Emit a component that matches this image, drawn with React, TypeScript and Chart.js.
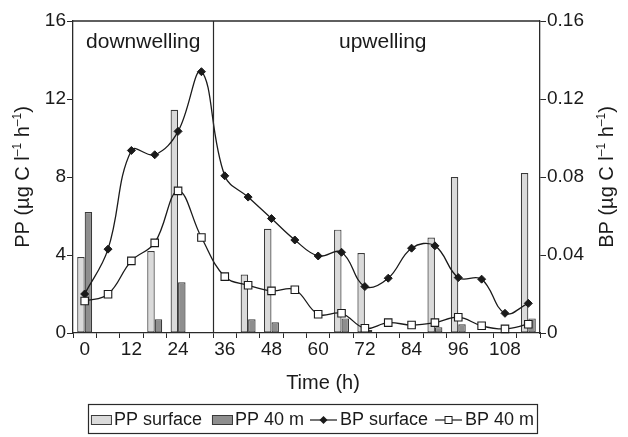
import React, { useEffect, useRef } from 'react';
import { Chart, registerables } from 'chart.js';

Chart.register(...registerables);

// ---- data ----
const hours = [0, 6, 12, 18, 24, 30, 36, 42, 48, 54, 60, 66, 72, 78, 84, 90, 96, 102, 108, 114];
const categories = hours.map(String);
const ppSurface = [3.9, null, null, 4.2, 11.45, null, null, 3.0, 5.35, null, null, 5.3, 4.1, null, null, 4.9, 8.0, null, null, 8.2];
const pp40m = [6.2, null, null, 0.7, 2.6, null, null, 0.7, 0.55, null, null, 0.75, 0.15, null, null, 0.3, 0.45, null, null, 0.75];
const bpSurface = [0.02, 0.043, 0.0936, 0.0914, 0.1034, 0.134, 0.0806, 0.0697, 0.0587, 0.0477, 0.0395, 0.0414, 0.0238, 0.0281, 0.0435, 0.0447, 0.0284, 0.0276, 0.0101, 0.0152];
const bp40m = [0.0164, 0.0199, 0.037, 0.0462, 0.0729, 0.049, 0.0289, 0.0245, 0.0216, 0.0222, 0.0096, 0.0101, 0.0024, 0.0053, 0.0041, 0.0053, 0.0081, 0.0037, 0.0021, 0.0045];
const ppTicks = [0, 4, 8, 12, 16];
const bpTicks = [0, 0.04, 0.08, 0.12, 0.16];
const phaseLabels = ['downwelling', 'upwelling'];
const lastDownwellingHour = 30;
const seriesNames = ['PP surface', 'PP 40 m', 'BP surface', 'BP 40 m'];

const FONT = '"Liberation Sans", Arial, Helvetica, sans-serif';
const INK = '#1a1a1a';
const AXIS = '#2a2a2a';
const LIGHT = '#dadada';
const DARK = '#8e8e8e';
const BAR_BORDER = '#3a3a3a';

type Seg = { t: string; sup?: boolean };
const unitSegs = (prefix: string): Seg[] => [
  { t: prefix + ' (\u00B5g C l' },
  { t: '\u20131', sup: true },
  { t: ' h' },
  { t: '\u20131', sup: true },
  { t: ')' },
];

function drawRich(ctx: CanvasRenderingContext2D, segs: Seg[], size: number, cx: number, cy: number, rot: number) {
  const main = `${size}px ${FONT}`;
  const sub = `${Math.round(size * 0.62)}px ${FONT}`;
  let total = 0;
  const widths = segs.map((s) => {
    ctx.font = s.sup ? sub : main;
    const w = ctx.measureText(s.t).width;
    total += w;
    return w;
  });
  ctx.save();
  ctx.translate(cx, cy);
  ctx.rotate(rot);
  ctx.fillStyle = INK;
  ctx.textBaseline = 'alphabetic';
  ctx.textAlign = 'left';
  let x = -total / 2;
  const base = size * 0.36;
  segs.forEach((s, i) => {
    ctx.font = s.sup ? sub : main;
    ctx.fillText(s.t, x, s.sup ? base - size * 0.42 : base);
    x += widths[i];
  });
  ctx.restore();
}

const extras = {
  id: 'extras',
  afterDraw(chart: any) {
    const { ctx, chartArea: a, scales } = chart;
    const xs = scales.x;
    ctx.save();
    // top frame line
    ctx.strokeStyle = AXIS;
    ctx.lineWidth = 1.3;
    ctx.beginPath();
    ctx.moveTo(a.left, a.top);
    ctx.lineTo(a.right, a.top);
    ctx.stroke();
    // phase divider
    const i = hours.indexOf(lastDownwellingHour);
    const xd = Math.round((xs.getPixelForValue(i) + xs.getPixelForValue(i + 1)) / 2) + 0.5;
    ctx.lineWidth = 1.2;
    ctx.beginPath();
    ctx.moveTo(xd, a.top);
    ctx.lineTo(xd, a.bottom);
    ctx.stroke();
    // phase labels
    ctx.fillStyle = INK;
    ctx.font = `21px ${FONT}`;
    ctx.textAlign = 'center';
    ctx.textBaseline = 'alphabetic';
    ctx.fillText(phaseLabels[0], (a.left + xd) / 2 + 0, a.top + 27);
    ctx.fillText(phaseLabels[1], (xd + a.right) / 2 + 6, a.top + 27);
    ctx.restore();

    // axis titles
    const cy = (a.top + a.bottom) / 2;
    drawRich(ctx, unitSegs('PP'), 20, 22, cy, -Math.PI / 2);
    drawRich(ctx, unitSegs('BP'), 20, 606, cy, -Math.PI / 2);
    ctx.save();
    ctx.fillStyle = INK;
    ctx.font = `20px ${FONT}`;
    ctx.textAlign = 'center';
    ctx.textBaseline = 'middle';
    ctx.fillText('Time (h)', 323, 383);
    ctx.restore();

    // legend
    ctx.save();
    const lf = `18px ${FONT}`;
    ctx.font = lf;
    const boxW = 21, boxH = 10, mkW = 27, gapIn = 2;
    const gaps = [10, 6, 7];
    const tw = seriesNames.map((n) => ctx.measureText(n).width);
    const itemW = [boxW + gapIn + tw[0], boxW + gapIn + tw[1], mkW + 3 + tw[2], mkW + 3 + tw[3]];
    const total = itemW.reduce((s, v) => s + v, 0) + gaps.reduce((s, v) => s + v, 0);
    const pad = 3;
    const cx = 312.5;
    const ly = 419;
    let x = cx - total / 2;
    ctx.strokeStyle = AXIS;
    ctx.lineWidth = 1.2;
    ctx.strokeRect(Math.round(x - pad) + 0.5, 404.5, Math.round(total + 2 * pad), 29);
    ctx.textBaseline = 'middle';
    ctx.textAlign = 'left';
    for (let k = 0; k < 4; k++) {
      if (k < 2) {
        ctx.fillStyle = k === 0 ? LIGHT : DARK;
        ctx.fillRect(x, ly - boxH / 2 + 1, boxW, boxH);
        ctx.strokeStyle = BAR_BORDER;
        ctx.lineWidth = 1;
        ctx.strokeRect(x + 0.5, ly - boxH / 2 + 1.5, boxW - 1, boxH - 1);
        ctx.fillStyle = INK;
        ctx.fillText(seriesNames[k], x + boxW + gapIn, ly + 1);
      } else {
        ctx.strokeStyle = INK;
        ctx.lineWidth = 1.2;
        ctx.beginPath();
        ctx.moveTo(x, ly + 1);
        ctx.lineTo(x + mkW, ly + 1);
        ctx.stroke();
        const mx = x + mkW / 2;
        if (k === 2) {
          ctx.fillStyle = INK;
          ctx.beginPath();
          ctx.moveTo(mx, ly - 3);
          ctx.lineTo(mx + 4, ly + 1);
          ctx.lineTo(mx, ly + 5);
          ctx.lineTo(mx - 4, ly + 1);
          ctx.closePath();
          ctx.fill();
        } else {
          ctx.fillStyle = '#ffffff';
          ctx.fillRect(mx - 3.5, ly - 2.5, 7, 7);
          ctx.strokeStyle = INK;
          ctx.lineWidth = 1;
          ctx.strokeRect(mx - 3.5, ly - 2.5, 7, 7);
        }
        ctx.fillStyle = INK;
        ctx.fillText(seriesNames[k], x + mkW + 3, ly + 1);
      }
      x += itemW[k] + (k < 3 ? gaps[k] : 0);
    }
    ctx.restore();
  },
};

export default function App() {
  const ref = useRef<HTMLCanvasElement | null>(null);
  useEffect(() => {
    if (!ref.current) return;
    Chart.defaults.font.family = FONT;
    Chart.defaults.color = INK;
    const chart = new Chart(ref.current, {
      type: 'bar',
      data: {
        labels: categories,
        datasets: [
          {
            type: 'line',
            label: seriesNames[3],
            data: bp40m,
            yAxisID: 'y1',
            borderColor: INK,
            borderWidth: 1.3,
            tension: 0.4,
            pointStyle: 'rect',
            pointRadius: 5.3,
            pointBackgroundColor: '#ffffff',
            pointBorderColor: INK,
            pointBorderWidth: 1.1,
            clip: false,
            order: 0,
          } as any,
          {
            type: 'line',
            label: seriesNames[2],
            data: bpSurface,
            yAxisID: 'y1',
            borderColor: INK,
            borderWidth: 1.3,
            tension: 0.4,
            pointStyle: 'rectRot',
            pointRadius: 4,
            pointBackgroundColor: INK,
            pointBorderColor: INK,
            pointBorderWidth: 1,
            clip: false,
            order: 1,
          } as any,
          {
            label: seriesNames[0],
            data: ppSurface,
            yAxisID: 'y',
            backgroundColor: LIGHT,
            borderColor: BAR_BORDER,
            borderWidth: 1.2,
            borderSkipped: false,
            categoryPercentage: 0.64,
            barPercentage: 1,
            order: 2,
          },
          {
            label: seriesNames[1],
            data: pp40m,
            yAxisID: 'y',
            backgroundColor: DARK,
            borderColor: BAR_BORDER,
            borderWidth: 1.2,
            borderSkipped: false,
            categoryPercentage: 0.64,
            barPercentage: 1,
            order: 3,
          },
        ],
      },
      options: {
        responsive: false,
        animation: false,
        devicePixelRatio: 1,
        layout: { padding: { top: 21, bottom: 39, left: 0, right: 0 } },
        plugins: { legend: { display: false }, tooltip: { enabled: false } },
        scales: {
          x: {
            offset: true,
            grid: { offset: true, drawOnChartArea: false, drawTicks: true, tickLength: 5, color: AXIS, lineWidth: 1 },
            border: { display: true, color: AXIS, width: 1.3 },
            ticks: {
              autoSkip: false,
              maxRotation: 0,
              minRotation: 0,
              padding: 0,
              font: { size: 19 },
              color: INK,
              callback: (_v: any, i: number) => (i % 2 === 0 ? categories[i] : ''),
            },
            afterFit: (s: any) => { s.height = 65; },
          },
          y: {
            position: 'left',
            min: ppTicks[0],
            max: ppTicks[ppTicks.length - 1],
            afterBuildTicks: (s: any) => { s.ticks = ppTicks.map((v) => ({ value: v })); },
            grid: { drawOnChartArea: false, tickLength: 6, color: AXIS },
            border: { display: true, color: AXIS, width: 1.3 },
            ticks: { font: { size: 19 }, color: INK, padding: 1 },
            afterFit: (s: any) => { s.width = 73; },
          },
          y1: {
            position: 'right',
            min: bpTicks[0],
            max: bpTicks[bpTicks.length - 1],
            afterBuildTicks: (s: any) => { s.ticks = bpTicks.map((v) => ({ value: v })); },
            grid: { drawOnChartArea: false, tickLength: 6, color: AXIS },
            border: { display: true, color: AXIS, width: 1.3 },
            ticks: {
              font: { size: 19 },
              color: INK,
              padding: 1,
              callback: (v: any) => (v === 0 ? '0' : Number(v).toFixed(2)),
            },
            afterFit: (s: any) => { s.width = 88; },
          },
        },
      },
      plugins: [extras],
    } as any);
    return () => chart.destroy();
  }, []);
  return (
    <div style={{ position: 'fixed', left: 0, top: 0, width: 628, height: 437, background: '#fff' }}>
      <canvas ref={ref} width={628} height={437} style={{ display: 'block' }} />
    </div>
  );
}
